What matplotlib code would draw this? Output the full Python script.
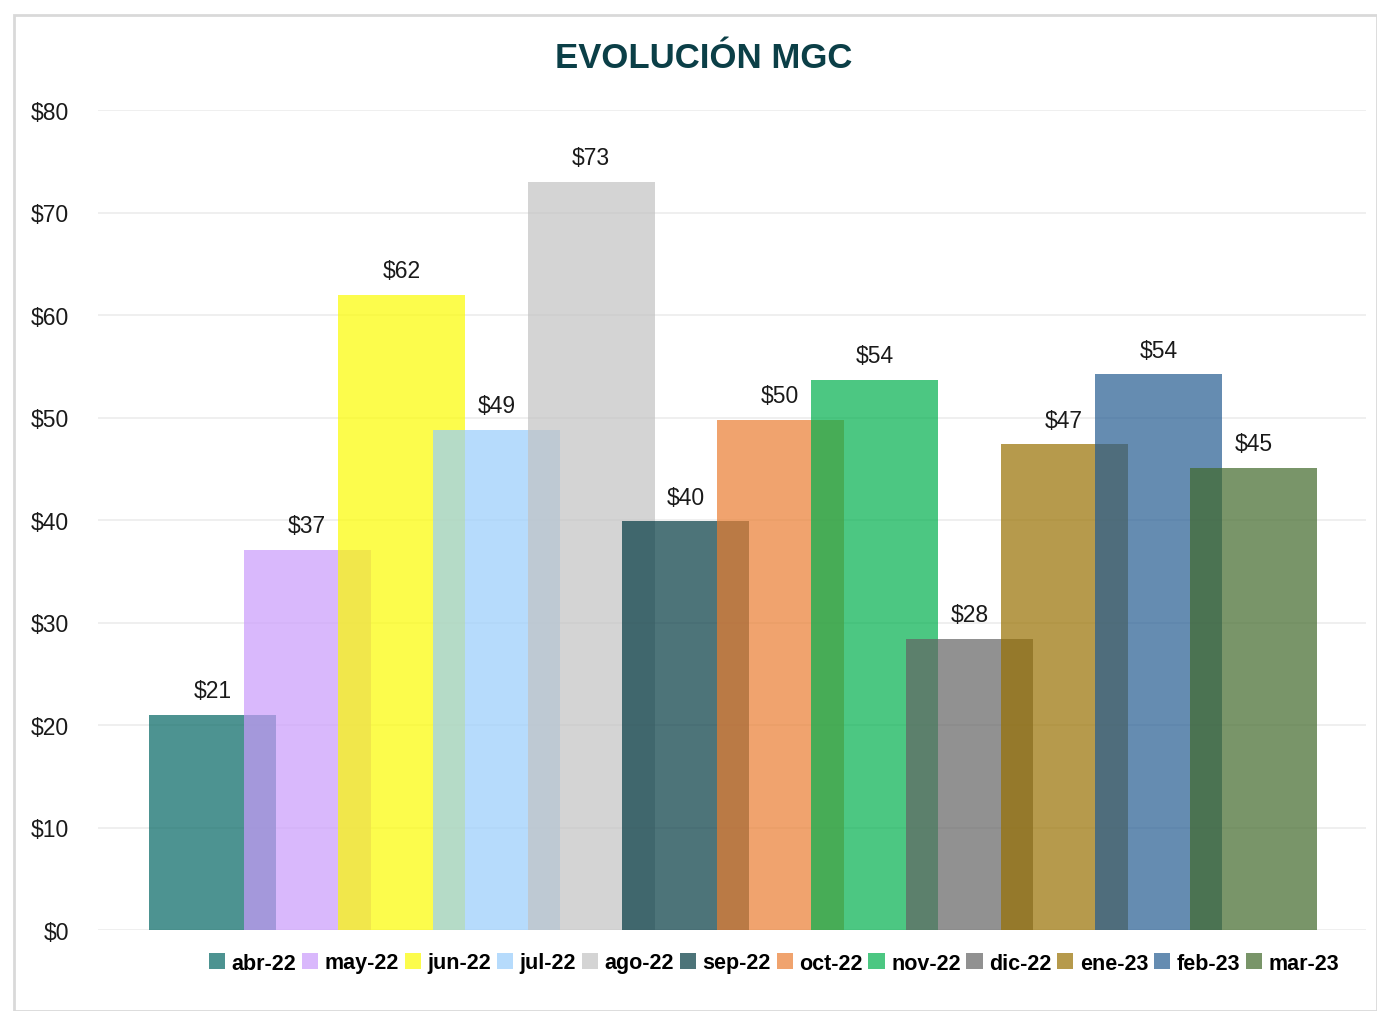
import matplotlib
matplotlib.use("Agg")
import matplotlib.pyplot as plt
from matplotlib.patches import Rectangle, Patch
from matplotlib import font_manager

months = ["abr-22", "may-22", "jun-22", "jul-22", "ago-22", "sep-22",
          "oct-22", "nov-22", "dic-22", "ene-23", "feb-23", "mar-23"]
values = [21.0, 37.1, 62.0, 48.8, 73.0, 39.9, 49.8, 53.7, 28.4, 47.4, 54.2, 45.1]
colors = ["#026663", "#ca9bfc", "#fcfc00", "#98cdfc", "#c2c2c2", "#023941",
          "#ea7d30", "#00b04d", "#636363", "#987000", "#245b91", "#41692a"]
yticks = [0, 10, 20, 30, 40, 50, 60, 70, 80]

names = {f.name for f in font_manager.fontManager.ttflist}
narrow = "Liberation Sans Narrow" if "Liberation Sans Narrow" in names else "Liberation Sans"
plt.rcParams["font.family"] = [narrow, "DejaVu Sans"]
small = narrow == "Liberation Sans"

fig = plt.figure(figsize=(13.77, 10.12), dpi=100)
fig.patches.append(Rectangle((14 / 1377, 0), 1 - 14 / 1377, 1 - 16 / 1012, transform=fig.transFigure,
                             fill=False, edgecolor="#d9d9d9", lw=2, zorder=0))
ax = fig.add_axes([98 / 1377, 81 / 1012, (1366 - 98) / 1377, 820 / 1012])

w = 1.342
lab_fs = 16.5 if small else 18
for i, (m, v, c) in enumerate(zip(months, values, colors)):
    ax.bar(i, v, width=w, color=c, alpha=0.7, label=m, zorder=2 + i, linewidth=0)
    ax.annotate(f"${v:.0f}", (i, v), xytext=(0, 9), textcoords="offset points",
                ha="center", va="bottom", fontsize=lab_fs, color="#1a1a1a", zorder=20)

ax.set_xlim(-1.21, 12.19)
ax.set_ylim(0, 80)
ax.set_yticks(yticks)
ax.set_yticklabels([f"${t}" for t in yticks], fontsize=lab_fs, color="#1a1a1a")
ax.set_xticks([])
ax.tick_params(axis="y", length=0, pad=21)
ax.grid(axis="y", color="#ececec", lw=1.2, zorder=0)
ax.set_axisbelow(True)
for s in ax.spines.values():
    s.set_visible(False)

fig.text(704 / 1377, 1 - 58 / 1012, "EVOLUCIÓN MGC", ha="center", va="center",
         fontsize=25 if small else 30, fontweight="bold", color="#0b3f47")

handles = [Patch(facecolor=c, alpha=0.7) for c in colors]
fig.legend(handles, months, loc="center", bbox_to_anchor=(774 / 1377, 1 - 964 / 1012),
           ncol=12, frameon=False, handlelength=0.75, handleheight=0.75, handletextpad=0.3,
           columnspacing=0.27, prop={"weight": "bold", "size": 15.5 if small else 18})

fig.savefig("out.png", dpi=100, facecolor="white")
